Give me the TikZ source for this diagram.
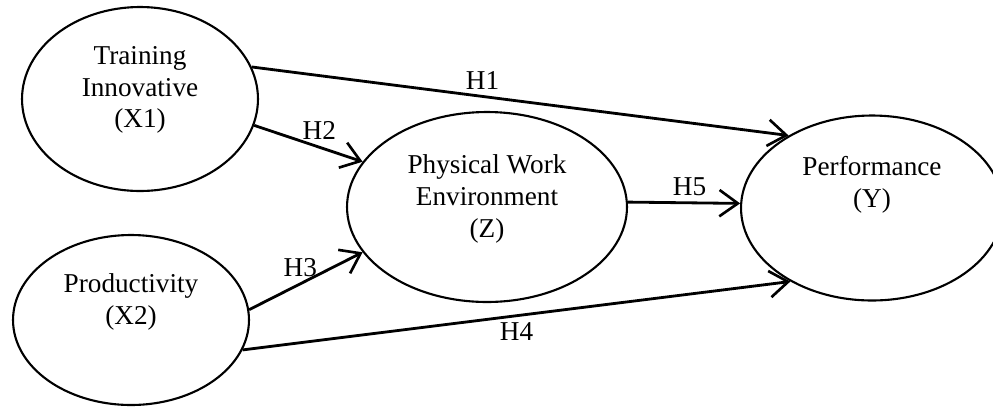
\documentclass[tikz,border=0pt]{standalone}
\usepackage{fontspec}
\setmainfont{Liberation Serif}
\usetikzlibrary{arrows.meta,shapes.geometric}
\begin{document}
\begin{tikzpicture}[x=0.02cm, y=-0.02cm,
    var/.style={draw, ellipse, line width=1.2pt, inner sep=0pt},
    vartext/.style={align=center, font=\fontsize{15.5}{18}\selectfont},
    path/.style={-{Straight Barb[length=10.5pt, width=15pt, line width=1.5pt]}, line width=1.6pt},
    hyp/.style={font=\fontsize{15.5}{18}\selectfont}]
    \useasboundingbox (0,0) rectangle (993,407);

    % Nodes
    \node[var, minimum width=4.72cm, minimum height=3.68cm] (X1) at (140, 99) {};
    \node[var, minimum width=4.72cm, minimum height=3.4cm] (X2) at (131, 320) {};
    \node[var, minimum width=5.6cm, minimum height=3.8cm] (Z) at (487, 207) {};
    \node[var, minimum width=5.24cm, minimum height=3.7cm] (Y) at (872, 208) {};

    % Texts
    \node[vartext] (X1Text) at ([yshift=0.18cm]X1.center) {Training\\Innovative\\(X1)};
    \node[vartext] (X2Text) at ([yshift=0.36cm]X2.center) {Productivity\\(X2)};
    \node[vartext] (ZText) at ([yshift=0.16cm]Z.center) {Physical Work\\Environment\\(Z)};
    \node[vartext] (YText) at ([yshift=0.46cm]Y.center) {Performance\\(Y)};

    % Arrows
    \draw[path] (X1.16) -- node[hyp, pos=0.43, above] {H1} (Y.139);
    \draw[path] (X1.-13) -- node[hyp, pos=0.6, above] {H2} (Z.160);
    \draw[path] (X2.5) -- node[hyp, pos=0.45, above] {H3} (Z.200);
    \draw[path] (X2.-15) -- node[hyp, pos=0.5, below] {H4} (Y.222);
    \draw[path] (Z.2) -- node[hyp, pos=0.55, above] {H5} (Y.178);
\end{tikzpicture}
\end{document}
